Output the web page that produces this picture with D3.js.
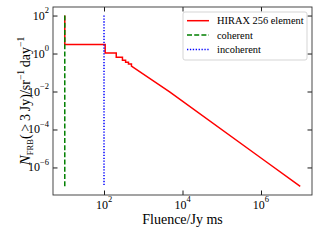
<!DOCTYPE html>
<html><head><meta charset="utf-8">
<script src="https://cdn.jsdelivr.net/npm/d3@7"></script>
<style>body{margin:0;background:#fff}svg{display:block}text{font-family:"Liberation Serif","DejaVu Serif",serif;fill:#000}</style>
</head><body><svg id="c" width="320" height="240"></svg>
<script>
// ---- data ----
const hiraxFluence = [10, 10, 107, 107, 205, 205, 295, 295, 355, 355, 420, 420, 500, 500, 4700, 1.2e6, 1e7];
const hiraxRate    = [100, 3, 3, 1.05, 1.05, 0.63, 0.63, 0.44, 0.44, 0.35, 0.35, 0.28, 0.28, 0.22, 0.0095, 2.4e-6, 1e-7];
const coherentFluence = [10, 10];
const coherentRate    = [100, 1e-7];
const incoherentFluence = [100, 100];
const incoherentRate    = [100, 1e-7];
const xTickValues = [1e2, 1e4, 1e6];
const xTickExps   = ["2", "4", "6"];
const yTickValues = [1e-6, 1e-4, 1e-2, 1e0, 1e2];
const yTickExps   = ["-6", "-4", "-2", "0", "2"];
const legendLabels = ["HIRAX 256 element", "coherent", "incoherent"];
const xDomain = [Math.pow(10, 0.7), Math.pow(10, 7.3)];
const yDomain = [Math.pow(10, -7.45), Math.pow(10, 2.45)];

// ---- layout ----
const L = 53, R = 312, T = 7, B = 195;
const svg = d3.select("#c");
const x = d3.scaleLog().domain(xDomain).range([L, R]);
const y = d3.scaleLog().domain(yDomain).range([B, T]);

const series = [
  {fx: hiraxFluence, fy: hiraxRate, color: "#ff0000", dash: null},
  {fx: coherentFluence, fy: coherentRate, color: "#007f00", dash: "5,2.2"},
  {fx: incoherentFluence, fy: incoherentRate, color: "#0000ff", dash: "1.3,1.6"}
];
const line = d3.line().x(d => x(d[0])).y(d => y(d[1]));
svg.append("clipPath").attr("id", "pc").append("rect")
  .attr("x", L).attr("y", T).attr("width", R - L).attr("height", B - T);
const plot = svg.append("g").attr("clip-path", "url(#pc)");
series.forEach(s => {
  const pts = s.fx.map((v, i) => [v, s.fy[i]]);
  plot.append("path").attr("d", line(pts)).attr("fill", "none")
    .attr("stroke", s.color).attr("stroke-width", 1.5)
    .attr("stroke-dasharray", s.dash);
});

// ---- axes (ticks inward, on all four sides) ----
const tk = 4.5;
svg.append("g").attr("transform", `translate(0,${B})`)
  .call(d3.axisBottom(x).tickValues(xTickValues).tickSizeInner(-tk).tickSizeOuter(0).tickFormat(""));
svg.append("g").attr("transform", `translate(0,${T})`)
  .call(d3.axisTop(x).tickValues(xTickValues).tickSizeInner(-tk).tickSizeOuter(0).tickFormat(""));
svg.append("g").attr("transform", `translate(${L},0)`)
  .call(d3.axisLeft(y).tickValues(yTickValues).tickSizeInner(-tk).tickSizeOuter(0).tickFormat(""));
svg.append("g").attr("transform", `translate(${R},0)`)
  .call(d3.axisRight(y).tickValues(yTickValues).tickSizeInner(-tk).tickSizeOuter(0).tickFormat(""));
svg.selectAll(".domain").remove();
svg.selectAll(".tick line").attr("stroke", "#000").attr("stroke-width", 0.9);
svg.append("rect").attr("x", L).attr("y", T).attr("width", R - L).attr("height", B - T)
  .attr("fill", "none").attr("stroke", "#333").attr("stroke-width", 0.9);

// tick labels with superscripts
xTickValues.forEach((v, i) => {
  const t = svg.append("text").attr("x", x(v)).attr("y", 208.5)
    .attr("text-anchor", "middle").style("font-size", "12px");
  t.append("tspan").text("10");
  t.append("tspan").attr("dy", -6.5).style("font-size", "8.5px").text(xTickExps[i].replace("-", "\u2212"));
});
yTickValues.forEach((v, i) => {
  const t = svg.append("text").attr("x", 49).attr("y", y(v) + 4)
    .attr("text-anchor", "end").style("font-size", "12px");
  t.append("tspan").text("10");
  t.append("tspan").attr("dy", -6.5).style("font-size", "8.5px").text(yTickExps[i].replace("-", "\u2212"));
});

// axis labels
svg.append("text").attr("x", (L + R) / 2).attr("y", 223.5).attr("text-anchor", "middle")
  .style("font-size", "14px").text("Fluence/Jy ms");
const yl = svg.append("text").attr("transform", `translate(30,${(T + B) / 2}) rotate(-90)`)
  .attr("text-anchor", "middle").style("font-size", "14px");
yl.append("tspan").style("font-style", "italic").style("font-size", "15px").text("N");
yl.append("tspan").attr("dy", 2.5).style("font-size", "8.5px").text("FRB");
yl.append("tspan").attr("dy", -2.5).text("(\u2009>\u20093\u2009Jy)/sr");
yl.append("tspan").attr("dy", -6).style("font-size", "9.5px").text("\u22121");
yl.append("tspan").attr("dy", 6).text("\u2009day");
yl.append("tspan").attr("dy", -6).style("font-size", "9.5px").text("\u22121");

// ---- legend ----
const lg = svg.append("g");
lg.append("rect").attr("x", 183).attr("y", 12).attr("width", 124).attr("height", 48).attr("rx", 2)
  .attr("fill", "#fff").attr("fill-opacity", 0.8).attr("stroke", "#d0d0d0").attr("stroke-width", 0.9);
const rows = [20.7, 35, 49.5];
series.forEach((s, i) => {
  lg.append("line").attr("x1", 187).attr("x2", 209).attr("y1", rows[i]).attr("y2", rows[i])
    .attr("stroke", s.color).attr("stroke-width", 1.5).attr("stroke-dasharray", s.dash);
  lg.append("text").attr("x", 217).attr("y", rows[i] + 3.6).style("font-size", "10.4px").text(legendLabels[i]);
});
</script></body></html>
